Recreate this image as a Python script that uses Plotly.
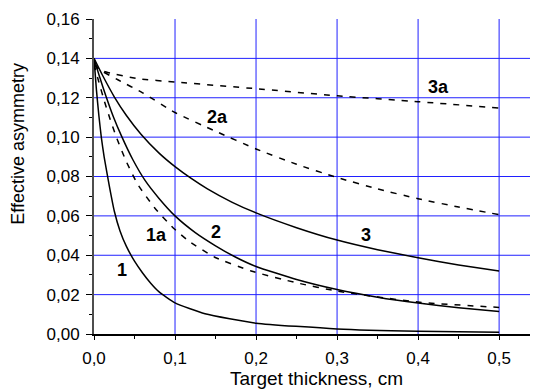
import plotly.graph_objects as go

# ---- data ----
x_1 = [0, 0.003, 0.006, 0.009, 0.0125, 0.019, 0.025, 0.032, 0.04, 0.05, 0.06, 0.07, 0.08, 0.1, 0.137, 0.2, 0.3, 0.4, 0.5]
y_1 = [0.140, 0.124, 0.111, 0.100, 0.090, 0.075, 0.0625, 0.0525, 0.0445, 0.037, 0.031, 0.0258, 0.0215, 0.0158, 0.0103, 0.0055, 0.0026, 0.0014, 0.0009]

x_1a = [0, 0.006, 0.013, 0.02, 0.0276, 0.04, 0.054, 0.075, 0.0975, 0.116, 0.149, 0.194, 0.25, 0.3, 0.4, 0.5]
y_1a = [0.137, 0.128, 0.118, 0.109, 0.100, 0.0875, 0.076, 0.064, 0.054, 0.0475, 0.039, 0.032, 0.026, 0.0218, 0.0162, 0.0135]

x_2 = [0, 0.007, 0.015, 0.024, 0.034, 0.048, 0.063, 0.08, 0.1, 0.125, 0.15, 0.175, 0.2, 0.25, 0.3, 0.35, 0.4, 0.45, 0.5]
y_2 = [0.140, 0.1305, 0.1205, 0.1102, 0.1005, 0.0885, 0.078, 0.069, 0.060, 0.0515, 0.0448, 0.039, 0.0343, 0.0277, 0.0226, 0.0187, 0.0157, 0.0133, 0.0114]

x_3 = [0, 0.01, 0.025, 0.04, 0.058, 0.08, 0.1, 0.12, 0.14, 0.17, 0.2, 0.25, 0.3, 0.35, 0.4, 0.45, 0.5]
y_3 = [0.140, 0.1318, 0.1205, 0.111, 0.1015, 0.092, 0.085, 0.079, 0.0737, 0.067, 0.0615, 0.054, 0.0477, 0.0428, 0.0387, 0.0351, 0.032]

x_2a = [0, 0.01, 0.03, 0.06, 0.1, 0.15, 0.2, 0.25, 0.3, 0.35, 0.4, 0.45, 0.5]
y_2a = [0.137, 0.1335, 0.129, 0.1225, 0.1125, 0.103, 0.094, 0.0862, 0.0795, 0.0737, 0.0687, 0.0645, 0.0606]

x_3a = [0, 0.005, 0.017, 0.054, 0.1, 0.2, 0.3, 0.4, 0.5]
y_3a = [0.137, 0.1345, 0.1328, 0.1297, 0.128, 0.1246, 0.121, 0.118, 0.1148]

labels = ["1", "1a", "2", "3", "2a", "3a"]
label_x = [0.0346, 0.0774, 0.151, 0.336, 0.153, 0.4255]
label_y = [0.0325, 0.0503, 0.052, 0.0505, 0.110, 0.1256]

x_ticks = [0, 0.1, 0.2, 0.3, 0.4, 0.5]
y_ticks = [0, 0.02, 0.04, 0.06, 0.08, 0.10, 0.12, 0.14, 0.16]

x_title = "Target thickness, cm"
y_title = "Effective asymmetry"

# ---- figure ----
FONT = "Liberation Sans, Arial, sans-serif"
DASH = "6px,7px"
fig = go.Figure()

series = [
    (x_1, y_1, "solid"),
    (x_1a, y_1a, DASH),
    (x_2, y_2, "solid"),
    (x_3, y_3, "solid"),
    (x_2a, y_2a, DASH),
    (x_3a, y_3a, DASH),
]
for xs, ys, dash in series:
    fig.add_trace(go.Scatter(
        x=xs, y=ys, mode="lines",
        line=dict(color="black", width=1.5, dash=dash, shape="spline", smoothing=0.5),
        hoverinfo="skip",
    ))

# grid lines (no horizontal line at the top tick)
GRID = "#2020ff"
for v in y_ticks[1:-1]:
    fig.add_hline(y=v, line=dict(color=GRID, width=1), layer="below")
for v in x_ticks[1:]:
    fig.add_vline(x=v, line=dict(color=GRID, width=1), layer="below")

for t, lx, ly in zip(labels, label_x, label_y):
    fig.add_annotation(x=lx, y=ly, text="<b>%s</b>" % t, showarrow=False,
                       xanchor="center", yanchor="middle",
                       font=dict(family=FONT, size=18, color="black"))

fig.add_annotation(xref="paper", yref="paper", x=-0.170, y=0.6025, text=y_title,
                   textangle=-90, showarrow=False, xanchor="center", yanchor="middle",
                   font=dict(family=FONT, size=18, color="black"))
fig.add_annotation(xref="paper", yref="paper", x=0.502, y=-0.142, text=x_title,
                   showarrow=False, xanchor="center", yanchor="middle",
                   font=dict(family=FONT, size=19, color="black"))

# the page body has an 8px margin, so the figure is 8px smaller on each axis
fig.update_layout(
    width=530, height=382,
    margin=dict(l=86, r=0, t=11, b=56),
    paper_bgcolor="white", plot_bgcolor="white",
    separators=", ",
    showlegend=False,
    font=dict(family=FONT, size=17, color="black"),
)
fig.update_xaxes(
    range=[0, 0.548], tickvals=x_ticks, tickformat=".1f",
    showgrid=False, zeroline=False,
    showline=True, linecolor="black", linewidth=1.5,
    ticks="outside", ticklen=4, tickwidth=1.2, tickcolor="black",
    ticklabelstandoff=4,
    minor=dict(dtick=0.05, tick0=0, ticks="outside", ticklen=3, tickcolor="black", showgrid=False),
)
fig.update_yaxes(
    range=[0, 0.16], tickvals=y_ticks, tickformat=".2f",
    showgrid=False, zeroline=False,
    showline=True, linecolor="#4d4d4d", linewidth=2,
    ticks="outside", ticklen=6, tickwidth=1.2, tickcolor="black",
    ticklabelstandoff=3,
    minor=dict(dtick=0.01, tick0=0, ticks="outside", ticklen=3, tickcolor="black", showgrid=False),
)

fig.write_html("out.html")
